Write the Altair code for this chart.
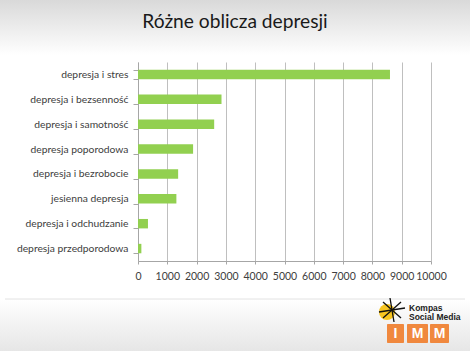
import altair as alt
import pandas as pd

categories = [
    "depresja i stres",
    "depresja i bezsenność",
    "depresja i samotność",
    "depresja poporodowa",
    "depresja i bezrobocie",
    "jesienna depresja",
    "depresja i odchudzanie",
    "depresja przedporodowa",
]
values = [8600, 2850, 2600, 1880, 1370, 1310, 340, 115]
x_ticks = [0, 1000, 2000, 3000, 4000, 5000, 6000, 7000, 8000, 9000, 10000]
title_text = "Różne oblicza depresji"
logo_lines = ["Kompas", "Social Media"]
logo_letters = ["I", "M", "M"]

df = pd.DataFrame({"category": categories, "value": values})
one = pd.DataFrame({"k": [0]})

W, H = 293, 199
PL, PT = 138, 62

grey_axis = "#a6a6a6"
txt_col = "#404040"

# background bands
top_band = alt.Chart(one).mark_rect(
    color=alt.Gradient(
        gradient="linear",
        stops=[alt.GradientStop(color="#d9d9d9", offset=0),
               alt.GradientStop(color="#ffffff", offset=1)],
        x1=0, x2=0, y1=0, y2=1,
    )
).encode(x=alt.value(-PL), x2=alt.value(470 - PL), y=alt.value(-PT), y2=alt.value(55 - PT))

bottom_band = alt.Chart(one).mark_rect(
    color=alt.Gradient(
        gradient="linear",
        stops=[alt.GradientStop(color="#ffffff", offset=0),
               alt.GradientStop(color="#e6e6e6", offset=1)],
        x1=0, x2=0, y1=0, y2=1,
    )
).encode(x=alt.value(-PL), x2=alt.value(470 - PL), y=alt.value(299 - PT), y2=alt.value(351 - PT))

sep = alt.Chart(one).mark_rule(color="#e2e2e2", strokeWidth=1).encode(
    x=alt.value(5 - PL), x2=alt.value(465 - PL), y=alt.value(299 - PT)
)

title = alt.Chart(one).mark_text(
    text=title_text, font="Lato", fontSize=19.2, color="#1a1a1a",
    align="center", baseline="alphabetic",
).encode(x=alt.value(235 - PL), y=alt.value(28 - PT))

bars = alt.Chart(df).mark_bar(color="#92d050").encode(
    x=alt.X(
        "value:Q",
        scale=alt.Scale(domain=[0, 10000], nice=False),
        axis=alt.Axis(
            values=x_ticks, format="d", title=None, grid=True,
            gridColor="#bfbfbf", gridWidth=1, domainColor=grey_axis,
            tickColor=grey_axis, tickSize=3, labelFont="Lato",
            labelFontSize=10.5, labelColor=txt_col, labelPadding=7,
            labelFlush=False,
        ),
    ),
    y=alt.Y(
        "category:N",
        sort=categories,
        scale=alt.Scale(paddingInner=0.62, paddingOuter=0.31),
        axis=alt.Axis(
            title=None, tickBand="extent", tickSize=5, labelFont="Lato",
            labelFontSize=10.3, labelColor=txt_col, labelPadding=5,
            domainColor=grey_axis, tickColor=grey_axis, grid=False,
        ),
    ),
)

# logo
sun = alt.Chart(one).mark_point(filled=True, shape="circle", size=260, color="#f7c521", opacity=1).encode(
    x=alt.value(387 - PL), y=alt.value(312 - PT)
)
star_segments = [
    ((390, 298), (394, 322)),
    ((379, 312), (405, 308)),
    ((383, 302), (401, 318)),
    ((383, 318), (401, 302)),
]
star_layers = [
    alt.Chart(one).mark_rule(color="#111111", strokeWidth=1.3).encode(
        x=alt.value(a[0] - PL), y=alt.value(a[1] - PT),
        x2=alt.value(b[0] - PL), y2=alt.value(b[1] - PT),
    )
    for a, b in star_segments
]
logo_t1 = alt.Chart(one).mark_text(
    text=logo_lines[0], font="Liberation Sans", fontWeight="bold", fontSize=8.5,
    color="#222222", align="left", baseline="alphabetic",
).encode(x=alt.value(409 - PL), y=alt.value(311 - PT))
logo_t2 = alt.Chart(one).mark_text(
    text=logo_lines[1], font="Liberation Sans", fontWeight="bold", fontSize=8.5,
    color="#222222", align="left", baseline="alphabetic",
).encode(x=alt.value(409 - PL), y=alt.value(320 - PT))

boxes = []
for (x0, x1), letter in zip([(387, 404), (407, 428), (430, 449)], logo_letters):
    boxes.append(
        alt.Chart(one).mark_rect(color="#f0883e", cornerRadius=1).encode(
            x=alt.value(x0 - PL), x2=alt.value(x1 - PL),
            y=alt.value(324 - PT), y2=alt.value(343 - PT),
        )
    )
    boxes.append(
        alt.Chart(one).mark_text(
            text=letter, font="Liberation Sans", fontWeight="bold", fontSize=14,
            color="#ffffff", align="center", baseline="middle",
        ).encode(x=alt.value((x0 + x1) / 2 - PL), y=alt.value(334 - PT))
    )

chart = alt.layer(
    top_band, bottom_band, sep, title, bars, sun, *star_layers, logo_t1, logo_t2, *boxes
).properties(
    width=W,
    height=H,
    padding={"left": PL, "top": PT, "right": 470 - PL - W, "bottom": 351 - PT - H},
    autosize=alt.AutoSizeParams(type="none"),
    background="#ffffff",
).configure_view(strokeWidth=0)

chart.save("out.html", embed_options={"renderer": "svg", "actions": False})
